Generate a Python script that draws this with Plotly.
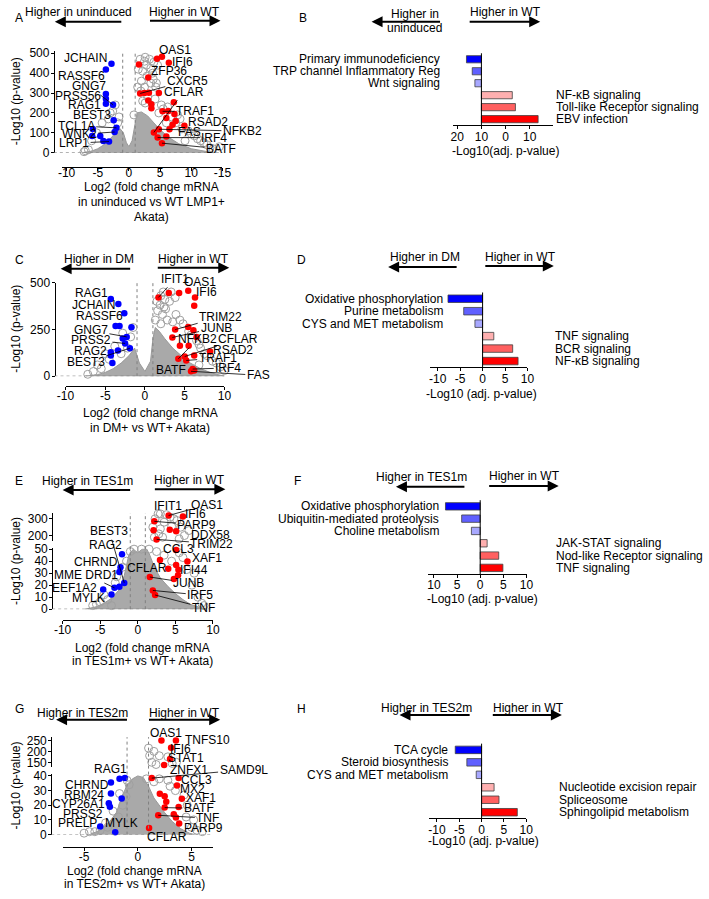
import plotly.graph_objects as go

W, H = 709, 899
FONT = "Liberation Sans, Arial, sans-serif"
BLACK = "#000000"
RED = "#ff0000"
BLUE = "#0000ff"
NS_GRAY = "#a0a0a0"
CLOUD_GRAY = "#a9a9a9"

# ---------------- A : uninduced vs WT LMP1+ Akata ----------------
A_down_x = [-2.8, -3.7, -3.7, -3.7, -3.7, -2.55, -2.45, -2.0, -5.8, -5.9, -4.6, -2.3, -4.1, -3.2]
A_down_y = [447, 419, 295, 271, 246, 241, 163, 125, 119, 84, 84, 104, 59, 56]
A_up_x = [1.6, 4.5, 5.3, 6.4, 3.1, 1.8, 2.5, 3.2, 4.8, 3.1, 3.6, 3.6, 7.2, 5.4, 6.3, 7.3, 6.0, 7.5, 7.0, 8.9, 4.0, 4.8, 6.5, 4.6, 6.0, 5.3]
A_up_y = [444, 472, 482, 452, 378, 298, 300, 302, 300, 262, 244, 224, 254, 208, 210, 195, 175, 160, 140, 135, 102, 118, 118, 76, 81, 48]
A_ns_x = [1.8, 2.5, 3.3, 4.0, 2.8, 3.5, 2.2, 3.8, 2.9, 2.0, 3.5, 2.5, 4.3, 1.9, 3.0, 2.2, 5.2, 6.2, 4.8, 6.8,
          7.5, 8.5, 10.0, 11.0, 12.0, 9.0, -3.0, -2.2, -1.6, -4.3, -7.0, -6.5, 0.8, 13.5, 14.5,
          1.5, 2.6, 4.6, 3.9, 4.4, 1.4, 2.6, 4.2, 5.5, 7.8, 6.0, 8.2, 9.5, 10.5, 11.5, 12.5, 13.0,
          -2.6, -3.3, -1.8, -5.2, -6.0, -7.2]
A_ns_y = [470, 460, 470, 455, 440, 425, 410, 400, 385, 360, 350, 330, 330, 310, 280, 260, 240, 230, 200, 180,
          150, 120, 95, 70, 50, 60, 200, 240, 180, 150, 10, 15, 190, 20, 30,
          420, 480, 440, 370, 350, 330, 250, 270, 220, 190, 150, 170, 110, 85, 60, 40, 25,
          210, 170, 150, 100, 60, 5]
A_cloud_x = [-7.5, -6, -5, -4, -3, -2, -1.4, -0.9, -0.4, 0, 0.5, 1.0, 1.3, 2.0, 3.0, 4.0, 5.0, 6.5, 8, 10, 12, 13.5]
A_cloud_y = [0, 8, 20, 40, 70, 105, 120, 100, 50, 30, 60, 150, 200, 205, 185, 150, 115, 75, 45, 20, 8, 0]

# ---------------- C : DM+ vs WT+ Akata ----------------
C_down_x = [-4.3, -3.35, -2.6, -3.7, -3.2, -1.7, -2.3, -2.8, -2.5, -4.3, -4.3, -3.4, -1.9, -4.1]
C_down_y = [412, 386, 337, 268, 268, 261, 210, 202, 175, 128, 110, 137, 149, 70]
C_up_x = [1.7, 3.0, 5.45, 4.3, 6.3, 6.2, 3.8, 5.45, 6.1, 3.45, 6.5, 4.4, 5.5, 8.2, 5.0, 6.2, 4.2, 5.2, 6.0, 6.2, 5.8]
C_up_y = [421, 444, 456, 444, 421, 377, 249, 263, 246, 207, 210, 163, 163, 132, 105, 110, 93, 84, 38, 30, 26]
C_ns_x = [2.0, 2.5, 3.3, 1.6, 2.2, 2.8, 3.5, 2.0, 4.4, 5.5, 6.5, 7.0, 7.5, 8.5, 9.5, 10.0, -1.8, -2.2, -3.0, -4.5,
          -7.2, -5.5, 4.5, 6.8, 1.9, 2.6, 3.1,
          1.5, 2.3, 3.8, 1.3, 2.4, 3.9, 4.8, 5.8, 6.8, 7.8, 9.0, -1.5, -2.8, -3.8, -5.0, -6.0, -6.5]
C_ns_y = [430, 410, 450, 350, 330, 300, 290, 280, 300, 240, 190, 150, 120, 80, 50, 30, 210, 150, 120, 90,
          10, 40, 60, 60, 380, 360, 400,
          400, 450, 420, 300, 370, 330, 280, 220, 170, 110, 70, 260, 230, 160, 120, 60, 25]
C_cloud_x = [-7.5, -6, -5, -4, -3, -2, -1.3, -0.7, 0, 0.7, 1.0, 1.3, 1.8, 2.5, 3.5, 4.5, 5.5, 7, 8.5, 10]
C_cloud_y = [0, 8, 20, 40, 70, 110, 150, 70, 25, 80, 200, 260, 240, 200, 150, 110, 75, 40, 15, 0]

# ---------------- E : TES1m+ vs WT+ Akata ----------------
E_down_x = [-2.1, -2.3, -2.45, -1.8, -2.45, -3.1, -4.6, -3.5]
E_down_y = [45.7, 35, 30.9, 21.9, 18.6, 17.8, 16.4, 12.3]
E_up_x = [2.2, 4.1, 6.0, 2.1, 4.25, 5.1, 2.5, 5.1, 2.95, 5.1, 6.6, 4.05, 5.4, 5.35, 4.8, 1.6, 2.0, 2.3]
E_up_y = [285, 320, 314, 232, 235, 226, 177, 49.2, 41, 36.9, 39.7, 33.6, 32.8, 28.2, 25.2, 26.8, 15.6, 11.8]
E_ns_x = [3.0, 3.8, 4.8, 2.3, 3.5, 5.2, 2.0, 4.5, 6.8, 2.8, 3.3, 5.5, -0.5, 1.5, 3.5, 4.5, 6.0, 6.5, 7.2, 8.0,
          8.5, -6.0, -5.0, -4.0, -2.8, -1.5, -3.5,
          2.7, 4.3, 5.7, 3.0, 6.2, 2.2, 0.5, 2.5, 5.5, 7.5, 8.8, -1.0, -2.0, -3.0, -4.5, -5.5]
E_ns_y = [330, 325, 300, 300, 280, 290, 250, 255, 230, 210, 190, 180, 50, 50, 45, 40, 43, 33, 20, 10,
          5, 3, 6, 8, 27, 40, 3,
          330, 310, 250, 240, 200, 190, 50, 48, 47, 30, 3, 48, 35, 22, 12, 4]
E_cloud_x = [-7, -5.5, -4.5, -3.5, -2.5, -1.8, -1.2, -0.6, 0, 0.6, 1.2, 1.6, 2.2, 3, 4, 5, 6, 7, 8.5, 9.2]
E_cloud_y = [0, 2, 5, 9, 16, 28, 45, 50, 47, 50, 50, 45, 35, 26, 19, 13, 8, 4, 1, 0]

# ---------------- G : TES2m+ vs WT+ Akata ----------------
G_down_x = [-2.5, -1.7, -1.2, -2.5, -1.5, -2.7, -2.6, -3.5, -2.1]
G_down_y = [35.6, 38, 38.5, 28, 24.6, 21.3, 19, 5.6, 1.6]
G_up_x = [2.2, 3.55, 3.1, 3.0, 2.45, 1.3, 3.8, 3.65, 2.05, 2.5, 4.1, 2.65, 3.8, 2.5, 1.9, 3.35, 3.55, 3.85, 1.05]
G_up_y = [250, 250, 216, 165, 138, 38.5, 38.5, 33.4, 27.8, 26.2, 24.4, 22.4, 18.8, 18.4, 13.2, 13.9, 11.7, 7.6, 4.5]
G_ns_x = [1.0, 1.5, 2.0, 1.3, 3.2, 1.7, 0.8, 1.5, 2.8, 3.5, 4.3, 4.5, 5.0, 5.5, -4.5, -3.5, -2.8, -1.8, -1.4, -1.1,
          -0.8, 2.8, 1.1, 3.6, 2.0, 3.0, 4.6, 5.2, 6.0, -1.0, -1.7, -2.3, -3.0, -4.0, -5.0]
G_ns_y = [215, 200, 180, 150, 145, 140, 38, 36, 37, 30, 27, 12, 5, 3, 2, 3, 5, 12, 20, 26,
          34, 175, 180, 150, 38, 33, 20, 10, 2, 37, 28, 16, 8, 2, 1]
G_cloud_x = [-4.5, -3.5, -2.7, -2, -1.5, -1, -0.5, 0, 0.5, 1, 1.5, 2, 2.5, 3.2, 4, 4.8, 5.3]
G_cloud_y = [0, 3, 8, 15, 25, 34, 38, 40, 39, 33, 25, 20, 15, 9, 4, 1, 0]

# ---------------- pathway bars (B, D, F, H) ----------------
B_terms = ["Primary immunodeficiency", "TRP channel Inflammatory Reg", "Wnt signaling",
           "NF-\u03baB signaling", "Toll-like Receptor signaling", "EBV infection"]
B_values = [-16.2, -13.8, -12.7, 2.8, 4.1, 13.5]   # bar end on the axis (bars start at -10)
D_terms = ["Oxidative phosphorylation", "Purine metabolism", "CYS and MET metabolism",
           "TNF signaling", "BCR signaling", "NF-\u03baB signaling"]
D_values = [-7.7, -4.2, -1.7, 2.5, 6.7, 7.9]
F_terms = ["Oxidative phosphorylation", "Ubiquitin-mediated proteolysis", "Choline metabolism",
           "JAK-STAT signaling", "Nod-like Receptor signaling", "TNF signaling"]
F_values = [-7.5, -4.0, -1.9, 1.5, 4.0, 4.9]
H_terms = ["TCA cycle", "Steroid biosynthesis", "CYS and MET metabolism",
           "Nucleotide excision repair", "Spliceosome", "Sphingolipid metabolism"]
H_values = [-5.9, -3.3, -1.2, 2.8, 3.9, 8.0]
BAR_COLORS = ["#0000ff", "#6060ff", "#a8a8ff", "#ffb0b0", "#ff6060", "#ff0000"]


def px(x):
    return x / W


def py(y):
    return 1 - y / H


def lay(ref):
    return ref[0] + "axis" + ref[1:]


fig = go.Figure()
annotations = []
shapes = []
axes = {}


def txt(text, x, y, xanchor="center", size=12, **kw):
    annotations.append(dict(text=text, x=px(x), y=py(y), xref="paper", yref="paper",
                            xanchor=xanchor, yanchor="middle", showarrow=False,
                            font=dict(family=FONT, size=size, color=BLACK), **kw))


def big_arrow(tail, head, y):
    annotations.append(dict(text="", x=px(head), y=py(y), xref="paper", yref="paper",
                            ax=tail - head, ay=0, axref="pixel", ayref="pixel",
                            showarrow=True, arrowhead=2, arrowsize=1.1, arrowwidth=2,
                            arrowcolor=BLACK))


def axis_style(standoff=0):
    return dict(showline=True, linecolor=BLACK, linewidth=1, ticks="outside", ticklen=3,
                tickcolor=BLACK, tickwidth=1, showgrid=False, zeroline=False,
                ticklabelstandoff=standoff,
                tickfont=dict(family=FONT, size=12, color=BLACK))


def volcano(cfg, dx, dy, ux, uy, nx, ny, cx, cy, labels):
    xd, xr, segs = cfg["xd"], cfg["xr"], cfg["segs"]
    axes[lay(segs[0]["x"])] = dict(domain=[px(xd[0]), px(xd[1])], range=list(xr), anchor="free",
                                   position=py(cfg["xline"]), tickvals=cfg["xtv"],
                                   ticktext=cfg["xtt"], **axis_style(cfg["standoff"]))
    for i, s in enumerate(segs):
        top, bot = s["d"]
        if i > 0:
            axes[lay(s["x"])] = dict(domain=[px(xd[0]), px(xd[1])], range=list(xr),
                                     anchor=s["y"], visible=False)
        axes[lay(s["y"])] = dict(domain=[py(bot), py(top)], range=list(s["r"]), anchor="free",
                                 position=px(cfg["yline"]), tickvals=s["tv"],
                                 ticktext=[str(v) for v in s["tv"]], **axis_style(-1))

    def seg_of(y):
        return 0 if y <= segs[0]["r"][1] else 1

    def pick(xs, ys, k):
        pts = [(a, b) for a, b in zip(xs, ys) if seg_of(b) == k]
        return [p[0] for p in pts], [p[1] for p in pts]

    s0 = segs[0]
    fig.add_trace(go.Scatter(x=cx + [cx[0]], y=cy + [cy[0]], mode="lines", fill="toself",
                             fillcolor=CLOUD_GRAY, line=dict(color="#999999", width=1),
                             xaxis=s0["x"], yaxis=s0["y"], hoverinfo="skip"))
    for k, s in enumerate(segs):
        for xs, ys, mk in [(nx, ny, dict(symbol="circle-open", size=8, color=NS_GRAY,
                                         line=dict(width=1))),
                           (dx, dy, dict(size=6.5, color=BLUE, line=dict(width=0))),
                           (ux, uy, dict(size=6.5, color=RED, line=dict(width=0)))]:
            sx, sy = pick(xs, ys, k)
            fig.add_trace(go.Scatter(x=sx, y=sy, mode="markers", marker=mk, cliponaxis=False,
                                     xaxis=s["x"], yaxis=s["y"], hoverinfo="skip"))

    # reference lines
    top_all = segs[-1]["d"][0]
    bot_all = s0["d"][1]
    for v in (-1, 1):
        shapes.append(dict(type="line", xref=s0["x"], yref="paper", x0=v, x1=v,
                           y0=py(bot_all), y1=py(top_all),
                           line=dict(color="#808080", width=1, dash="dot")))
    shapes.append(dict(type="line", xref="paper", yref=s0["y"], x0=px(cfg["yline"]),
                       x1=px(xd[1]), y0=0, y1=0,
                       line=dict(color="#808080", width=1, dash="dot")))

    for text, tx, ty, tgt in labels:
        if tgt is None:
            txt(text, tx, ty)
            continue
        xs, ys = (ux, uy) if tgt[0] == "up" else (dx, dy)
        x, y = xs[tgt[1]], ys[tgt[1]]
        s = segs[seg_of(y)]
        top, bot = s["d"]
        X = xd[0] + (x - xr[0]) / (xr[1] - xr[0]) * (xd[1] - xd[0])
        Y = bot - (y - s["r"][0]) / (s["r"][1] - s["r"][0]) * (bot - top)
        annotations.append(dict(text=text, x=x, y=y, xref=s["x"], yref=s["y"],
                                ax=tx - X, ay=ty - Y, axref="pixel", ayref="pixel",
                                showarrow=True, arrowhead=0, arrowwidth=0.8,
                                arrowcolor=BLACK, standoff=0,
                                font=dict(family=FONT, size=12, color=BLACK)))


def bars(cfg, terms, values):
    xref, yref = cfg["x"], cfg["y"]
    base = cfg["base"]
    axes[lay(xref)] = dict(domain=[px(cfg["xd"][0]), px(cfg["xd"][1])], range=list(cfg["xr"]),
                           anchor=yref, tickvals=cfg["tv"], ticktext=cfg["tt"], **axis_style(-3))
    axes[lay(yref)] = dict(domain=[py(cfg["yd"][1]), py(cfg["yd"][0])], range=[5.5, -0.5],
                           anchor=xref, visible=False)
    fig.add_trace(go.Bar(y=list(range(len(values))), x=[v - base for v in values], base=base,
                         orientation="h", width=0.6,
                         marker=dict(color=BAR_COLORS, line=dict(color="#404040", width=0.8)),
                         xaxis=xref, yaxis=yref, hoverinfo="skip"))
    shapes.append(dict(type="line", xref=xref, yref=yref + " domain", x0=base, x1=base,
                       y0=0, y1=1, line=dict(color=BLACK, width=1)))
    for i, t in enumerate(terms):
        if values[i] - base < 0:
            annotations.append(dict(text=t, x=px(cfg["lab_l"]), y=i, xref="paper", yref=yref,
                                    xanchor="right", showarrow=False,
                                    font=dict(family=FONT, size=12, color=BLACK)))
        else:
            annotations.append(dict(text=t, x=px(cfg["lab_r"]), y=i, xref="paper", yref=yref,
                                    xanchor="left", showarrow=False,
                                    font=dict(family=FONT, size=12, color=BLACK)))
    t, tx, ty = cfg["title"]
    txt(t, tx, ty)


# ---------------- volcano layouts (pixel geometry) ----------------
A_cfg = dict(xd=(54, 219), xr=(-10.8, 15), xline=163, yline=46, standoff=-9,
             xtv=[-10, -5, 0, 5, 10, 15], xtt=["-10", "-5", "0", "5", "10", "-15"],
             segs=[dict(x="x", y="y", d=(45, 148), r=(0, 510), tv=[0, 100, 200, 300, 400, 500])])
C_cfg = dict(xd=(58, 221), xr=(-10, 10), xline=385, yline=46.7, standoff=-4,
             xtv=[-10, -5, 0, 5, 10], xtt=["-10", "-5", "0", "5", "10"],
             segs=[dict(x="x2", y="y2", d=(280, 375), r=(0, 500), tv=[0, 250, 500])])
E_cfg = dict(xd=(55, 209.3), xr=(-10, 10), xline=622.7, yline=44.3, standoff=-4,
             xtv=[-10, -5, 0, 5, 10], xtt=["-10", "-5", "0", "5", "10"],
             segs=[dict(x="x3", y="y3", d=(550, 611.7), r=(0, 50.6), tv=[0, 10, 20, 30, 40, 50]),
                   dict(x="x4", y="y4", d=(514, 542), r=(170, 335), tv=[200, 300])])
G_cfg = dict(xd=(55, 209.3), xr=(-7, 7), xline=853.3, yline=43.3, standoff=-4,
             xtv=[-5, 0, 5], xtt=["-5", "0", "5"],
             segs=[dict(x="x5", y="y5", d=(779.3, 840.7), r=(0, 41.2), tv=[0, 10, 20, 30, 40]),
                   dict(x="x6", y="y6", d=(741.7, 771.7), r=(130, 265), tv=[150, 200, 250])])

A_labels = [("JCHAIN", 78, 52.3, None), ("RASSF6", 74, 70, None), ("GNG7", 83, 81, ("down", 5)),
            ("PRSS56", 70.5, 90.7, None), ("RAG1", 77.5, 99.3, None), ("BEST3", 85, 110, None),
            ("TCL1A", 70, 120.7, ("down", 7)), ("WNK2", 73, 129.3, ("down", 11)),
            ("LRP1", 67.7, 138.3, ("down", 13)),
            ("OAS1", 170.7, 43.3, None), ("IFI6", 178.3, 56, None), ("ZFP36", 164, 65, None),
            ("CXCR5", 181.7, 75, ("up", 5)), ("CFLAR", 178.3, 86.7, ("up", 20)),
            ("TRAF1", 190, 106, ("up", 13)), ("RSAD2", 204, 116.7, None),
            ("NFKB2", 237.3, 126, ("up", 21)), ("FAS", 185, 126.7, None),
            ("IRF4", 209.3, 132.7, ("up", 23)), ("BATF", 216, 144, ("up", 25))]
C_labels = [("RAG1", 85, 290.7, None), ("JCHAIN", 86.7, 302.7, None), ("RASSF6", 93.3, 314.3, None),
            ("GNG7", 85, 328.7, ("down", 6)), ("PRSS2", 85, 338.3, ("down", 8)),
            ("RAG2", 83.3, 349, None), ("BEST3", 80, 360.7, ("down", 12)),
            ("IFIT1", 170, 276.3, ("up", 0)), ("OAS1", 196, 279.3, None), ("IFI6", 202.7, 290, None),
            ("TRIM22", 216, 315, ("up", 6)), ("JUNB", 211.3, 326, ("up", 9)),
            ("NFKB2", 193, 337.7, ("up", 16)), ("CFLAR", 234, 337.7, ("up", 14)),
            ("RSAD2", 230, 348.3, None), ("TRAF1", 213.3, 356.7, ("up", 17)),
            ("BATF", 166.7, 368.3, None), ("IRF4", 224, 366.7, ("up", 18)),
            ("FAS", 254, 374, ("up", 20))]
E_labels = [("BEST3", 103.3, 533.3, ("down", 3)), ("RAG2", 99.3, 546.7, None),
            ("CHRND", 89.3, 563.3, None), ("MME DRD1", 80, 576.7, ("down", 5)),
            ("EEF1A2", 66.7, 590, None), ("MYLK", 81.7, 600, None),
            ("IFIT1", 163.3, 507.3, None), ("OAS1", 201.7, 506, ("up", 1)), ("IFI6", 191.7, 515, None),
            ("PARP9", 191.7, 526, ("up", 0)), ("DDX58", 206.7, 536, None),
            ("TRIM22", 206.7, 545, ("up", 6)), ("CCL3", 174.3, 550.7, None),
            ("XAF1", 202.7, 560, None), ("IFI44", 190, 572.3, None), ("CFLAR", 141.7, 570, None),
            ("JUNB", 183.3, 585, ("up", 15)), ("IRF5", 195, 597.3, ("up", 16)),
            ("TNF", 198.3, 610, ("up", 17))]
G_labels = [("RAG1", 104, 774.3, None), ("CHRND", 80, 790.7, None), ("RBM24", 77.3, 800.7, None),
            ("CYP26A1", 71.7, 810, None), ("PRSS2", 76, 819.3, None), ("PRELP", 70, 829.3, None),
            ("MYLK", 115, 829.3, None),
            ("OAS1", 160.7, 737.3, None), ("TNFS10", 203.3, 745, None), ("IFI6", 175.7, 753.3, None),
            ("STAT1", 181.7, 763.3, None), ("ZNFX1", 185, 775, None),
            ("SAMD9L", 238.3, 775, ("up", 5)), ("CCL3", 192.7, 785, None),
            ("MX2", 188.3, 794.3, None), ("XAF1", 196.7, 804, None),
            ("BATF", 194, 814, ("up", 13)), ("TNF", 202.7, 824, ("up", 14)),
            ("PARP9", 199.3, 834, None), ("CFLAR", 162.3, 842.7, None)]

volcano(A_cfg, A_down_x, A_down_y, A_up_x, A_up_y, A_ns_x, A_ns_y, A_cloud_x, A_cloud_y, A_labels)
volcano(C_cfg, C_down_x, C_down_y, C_up_x, C_up_y, C_ns_x, C_ns_y, C_cloud_x, C_cloud_y, C_labels)
volcano(E_cfg, E_down_x, E_down_y, E_up_x, E_up_y, E_ns_x, E_ns_y, E_cloud_x, E_cloud_y, E_labels)
volcano(G_cfg, G_down_x, G_down_y, G_up_x, G_up_y, G_ns_x, G_ns_y, G_cloud_x, G_cloud_y, G_labels)

bars(dict(x="x7", y="y7", xd=(456, 558), xr=(-21.6, 19.6), yd=(47, 120), base=-10,
          tv=[-20, -10, 0, 10, 20], tt=["20", "10", "0", "10", "20"], lab_l=444, lab_r=559,
          title=("-Log10(adj. p-value)", 509, 146)), B_terms, B_values)
bars(dict(x="x8", y="y8", xd=(432, 532), xr=(-11.7, 10), yd=(290, 366), base=0,
          tv=[-10, -5, 0, 5, 10], tt=["-10", "-5", "0", "5", "10"], lab_l=447, lab_r=558,
          title=("-Log10 (adj. p-value)", 484.7, 392.7)), D_terms, D_values)
bars(dict(x="x9", y="y9", xd=(430, 531), xr=(-11.25, 10), yd=(501, 576), base=0,
          tv=[-10, -5, 0, 5, 10], tt=["10", "5", "0", "5", "10"], lab_l=443, lab_r=559,
          title=("-Log10 (adj. p-value)", 485.7, 601.7)), F_terms, F_values)
bars(dict(x="x10", y="y10", xd=(431.3, 530.7), xr=(-11.7, 10), yd=(748.3, 824.3), base=0,
          tv=[-10, -5, 0, 5, 10], tt=["-10", "-5", "0", "5", "10"], lab_l=452, lab_r=562,
          title=("-Log10 (adj. p-value)", 487.3, 847.3)), H_terms, H_values)

# panel letters
for letter, lx, ly in [("A", 4, 11), ("B", 295, 11), ("C", 4, 257), ("D", 293, 257),
                       ("E", 4, 482), ("F", 290, 482), ("G", 4, 713), ("H", 293, 713)]:
    txt(letter, lx, ly, xanchor="left")

# direction headers
for t, hx, hy in [("Higher in uninduced", 71, 5), ("Higher in WT", 180.5, 5),
                  ("Higher in", 417, 7), ("uninduced", 416, 21), ("Higher in WT", 509, 5),
                  ("Higher in DM", 92, 256), ("Higher in WT", 189, 256),
                  ("Higher in DM", 426.7, 254), ("Higher in WT", 524.7, 254),
                  ("Higher in TES1m", 81, 481.7), ("Higher in WT", 185.7, 480.7),
                  ("Higher in TES1m", 423.3, 477.3), ("Higher in WT", 529, 476.7),
                  ("Higher in TES2m", 75, 716.7), ("Higher in WT", 180, 716.7),
                  ("Higher in TES2m", 428, 711.7), ("Higher in WT", 533.3, 711.7)]:
    txt(t, hx, hy)
for tail, head, ay in [(115, 47, 15), (145, 217, 14), (442, 372, 15), (473, 545, 15),
                       (124, 53, 266), (153, 226, 265), (459, 389, 264), (489, 559, 263),
                       (124, 55, 490.7), (150, 222, 490), (467, 397, 487.3), (493, 564, 486.7),
                       (120.7, 48.3, 724), (144, 216.7, 724), (472.3, 400.7, 719.3),
                       (496.7, 567.3, 719.3)]:
    big_arrow(tail, head, ay)

# volcano axis titles
for t, tx, ty in [("Log2 (fold change mRNA", 146, 183), ("in uninduced vs WT LMP1+", 146, 198),
                  ("Akata)", 146, 213),
                  ("Log2 (fold change mRNA", 145, 412), ("in DM+ vs WT+ Akata)", 145, 428),
                  ("Log2 (fold change mRNA", 137, 651), ("in TES1m+ vs WT+ Akata)", 137, 664),
                  ("Log2 (fold change mRNA", 129, 878), ("in TES2m+ vs WT+ Akata)", 129, 891)]:
    txt(t, tx, ty)
for cy_ in (96, 327, 563, 791):
    txt("-Log10 (p-value)", 7, cy_, textangle=-90)

fig.update_layout(width=W, height=H, margin=dict(l=0, r=0, t=0, b=0),
                  paper_bgcolor="white", plot_bgcolor="white", showlegend=False,
                  font=dict(family=FONT, size=12, color=BLACK),
                  annotations=annotations, shapes=shapes, bargap=0.4, **axes)

fig.write_html("out.html", config={"displayModeBar": False},
               post_script="document.body.style.margin='0';")
